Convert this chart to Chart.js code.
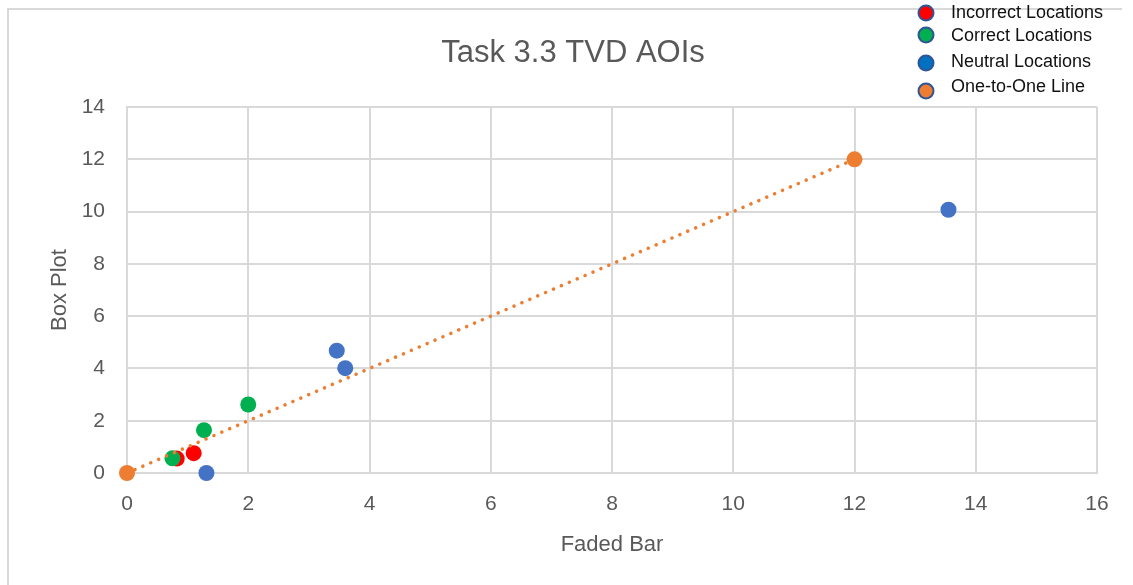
<!DOCTYPE html>
<html>
<head>
<meta charset="utf-8">
<script src="https://cdn.jsdelivr.net/npm/chart.js@4/dist/chart.umd.min.js"></script>
<style>
  html, body { margin: 0; padding: 0; background: #ffffff; }
  #wrap { width: 1133px; height: 585px; position: relative; }
</style>
</head>
<body>
<div id="wrap"><canvas id="c" width="1133" height="585"></canvas></div>
<script>
// Faded Bar (x) vs Box Plot (y) for each AOI group
const incorrectX = [0.82, 1.10];
const incorrectY = [0.55, 0.76];
const correctX = [0.75, 1.27, 2.00];
const correctY = [0.56, 1.64, 2.62];
const neutralX = [1.31, 3.46, 3.60, 13.55];
const neutralY = [0.00, 4.68, 4.01, 10.07];
const oneToOneX = [0, 12];
const oneToOneY = [0, 12];

const seriesNames = ['Incorrect Locations', 'Correct Locations', 'Neutral Locations', 'One-to-One Line'];
const chartTitle = 'Task 3.3 TVD AOIs';
const xTitle = 'Faded Bar';
const yTitle = 'Box Plot';

const toPoints = (xs, ys) => xs.map((x, i) => ({ x: x, y: ys[i] }));

const GRID = '#d9d9d9';
const TEXT = '#595959';
const FONT = '"Liberation Sans", Arial, sans-serif';

// legend swatch fills and the thin outline they share
const legendFill = ['#ff0000', '#00b050', '#0070c0', '#ed7d31'];
const legendEdge = '#2f5597';

const frameAndLegend = {
  id: 'frameAndLegend',
  beforeDraw(chart) {
    const ctx = chart.ctx;
    ctx.save();
    ctx.strokeStyle = GRID;
    ctx.lineWidth = 2;
    ctx.beginPath();
    ctx.moveTo(8, 585);
    ctx.lineTo(8, 9);
    ctx.lineTo(1122, 9);
    ctx.stroke();
    ctx.restore();
  },
  afterDraw(chart) {
    const ctx = chart.ctx;
    ctx.save();
    // title
    ctx.fillStyle = TEXT;
    ctx.font = '31px ' + FONT;
    ctx.textAlign = 'center';
    ctx.textBaseline = 'middle';
    ctx.fillText(chartTitle, 573, 53);
    // legend
    const rowY = [13, 36, 62, 87];
    const markY = [13, 35, 63, 91];
    chart.data.datasets.forEach((ds, i) => {
      ctx.beginPath();
      ctx.arc(926, markY[i], 7.5, 0, Math.PI * 2);
      ctx.fillStyle = legendFill[i];
      ctx.fill();
      ctx.lineWidth = 2;
      ctx.strokeStyle = legendEdge;
      ctx.stroke();
      ctx.fillStyle = '#111111';
      ctx.font = '18px ' + FONT;
      ctx.textAlign = 'left';
      ctx.textBaseline = 'middle';
      ctx.fillText(ds.label, 951, rowY[i]);
    });
    ctx.restore();
  }
};

new Chart(document.getElementById('c'), {
  type: 'scatter',
  data: {
    datasets: [
      {
        label: seriesNames[0],
        data: toPoints(incorrectX, incorrectY),
        backgroundColor: '#ff0000',
        borderWidth: 0,
        pointRadius: 8,
        clip: false,
        order: 2
      },
      {
        label: seriesNames[1],
        data: toPoints(correctX, correctY),
        backgroundColor: '#00b050',
        borderWidth: 0,
        pointRadius: 8,
        clip: false,
        order: 1
      },
      {
        label: seriesNames[2],
        data: toPoints(neutralX, neutralY),
        backgroundColor: '#4472c4',
        borderWidth: 0,
        pointRadius: 8,
        clip: false,
        order: 3
      },
      {
        label: seriesNames[3],
        data: toPoints(oneToOneX, oneToOneY),
        showLine: true,
        borderColor: '#ed7d31',
        backgroundColor: '#ed7d31',
        borderWidth: 3.5,
        borderDash: [0.1, 8.5],
        borderCapStyle: 'round',
        pointBorderWidth: 0,
        pointRadius: 8,
        clip: false,
        order: 0
      }
    ]
  },
  options: {
    responsive: false,
    animation: false,
    layout: { padding: { left: 40, right: 36, top: 107, bottom: 20 } },
    plugins: {
      legend: { display: false },
      title: { display: false },
      tooltip: { enabled: false }
    },
    scales: {
      x: {
        type: 'linear',
        min: 0,
        max: 16,
        ticks: { stepSize: 2, padding: 19, color: TEXT, font: { family: FONT, size: 21 } },
        grid: { color: GRID, lineWidth: 2, drawTicks: false },
        border: { color: GRID, width: 2 },
        title: { display: true, text: xTitle, color: TEXT, font: { family: FONT, size: 22 }, padding: { bottom: 7, top: 0 } },
        afterFit(scale) { scale.height = 92; }
      },
      y: {
        type: 'linear',
        min: 0,
        max: 14,
        ticks: { stepSize: 2, padding: 22, color: TEXT, font: { family: FONT, size: 21 } },
        grid: { color: GRID, lineWidth: 2, drawTicks: false },
        border: { color: GRID, width: 2 },
        title: { display: true, text: yTitle, color: TEXT, font: { family: FONT, size: 22 }, padding: { top: 7, bottom: 0 } },
        afterFit(scale) { scale.width = 87; }
      }
    }
  },
  plugins: [frameAndLegend]
});
</script>
</body>
</html>
